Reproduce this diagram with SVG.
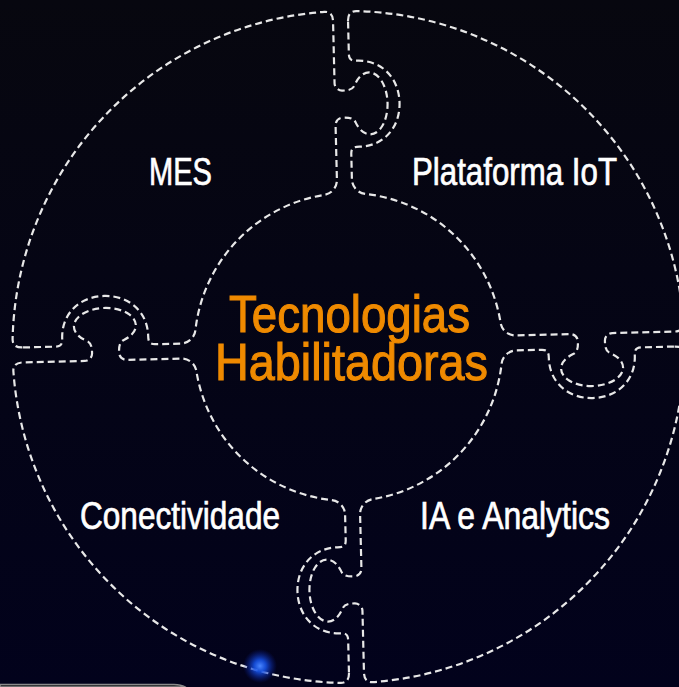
<svg xmlns="http://www.w3.org/2000/svg" width="679" height="687" viewBox="0 0 679 687">
<defs>
<linearGradient id="bg" x1="0" y1="0" x2="0" y2="1">
<stop offset="0" stop-color="#07070f"/>
<stop offset="1" stop-color="#02021c"/>
</linearGradient>
<radialGradient id="glow">
<stop offset="0" stop-color="#4a86ff"/>
<stop offset="0.35" stop-color="#1652e6" stop-opacity="0.9"/>
<stop offset="1" stop-color="#0a20a0" stop-opacity="0"/>
</radialGradient>
<path id="piece" class="piece" d="M 7.5 -326 Q 7.5 -335.92 16 -335.62 A 336 336 0 0 1 335.62 -16 Q 335.92 -7.5 326 -7.5 L 264 -7.5 A 7.5 7.5 0 0 0 256.5 0 C 256.5 6 257 10.5 261.6 12.6 A 31 18 0 1 1 224.4 12.6 C 229 10.5 229.5 6 229.5 0 A 7.5 7.5 0 0 0 222 -7.5 L 167.5 -7.5 A 15 15 0 0 1 152.63 -20.5 A 154 154 0 0 0 20.5 -152.63 A 15 15 0 0 1 7.5 -167.5 L 7.5 -193 C 7.5 -199 10 -200 16 -200 C 40 -200 57 -218 57 -243 C 57 -268 40 -286 16 -286 C 10 -286 7.5 -287 7.5 -293 Z"/>
</defs>
<style>
.piece { fill: none; stroke: #e8e8e8; stroke-width: 2.2; stroke-dasharray: 7 4; }
.label { font-family: "Liberation Sans", Arial, sans-serif; fill: #ffffff; stroke: #ffffff; stroke-width: 0.7; font-size: 38px; }
.title { font-family: "Liberation Sans", Arial, sans-serif; fill: #ef8a00; stroke: #ef8a00; stroke-width: 1.1; font-size: 52px; }
</style>
<rect width="679" height="687" fill="url(#bg)"/>
<g id="connectors"/>
<g id="node-mes">
<use href="#piece" transform="translate(348.5 347) rotate(-91.4)"/>
<text class="label" x="149" y="185" textLength="63" lengthAdjust="spacingAndGlyphs">MES</text>
</g>
<g id="node-plataforma-iot">
<use href="#piece" transform="translate(348.5 347) rotate(-1.4)"/>
<text class="label" x="412" y="185" textLength="205" lengthAdjust="spacingAndGlyphs">Plataforma IoT</text>
</g>
<g id="node-ia-analytics">
<use href="#piece" transform="translate(348.5 347) rotate(88.6)"/>
<text class="label" x="420" y="529" textLength="190" lengthAdjust="spacingAndGlyphs">IA e Analytics</text>
</g>
<g id="node-conectividade">
<use href="#piece" transform="translate(348.5 347) rotate(178.6)"/>
<text class="label" x="80" y="529" textLength="200" lengthAdjust="spacingAndGlyphs">Conectividade</text>
</g>
<g id="node-center">
<text class="title" x="229" y="332" textLength="241" lengthAdjust="spacingAndGlyphs">Tecnologias</text>
<text class="title" x="215" y="380" textLength="273" lengthAdjust="spacingAndGlyphs">Habilitadoras</text>
</g>
<circle cx="260" cy="666" r="17" fill="url(#glow)"/>
<path d="M 0 687 V 684.5 H 174 Q 181 684.5 185 687 Z" fill="#1a1a1e" stroke="#8a8a8a" stroke-width="1.6"/>
</svg>
